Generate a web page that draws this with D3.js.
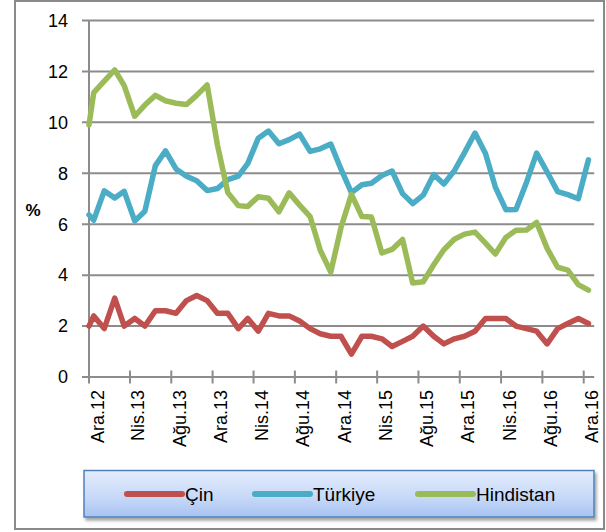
<!DOCTYPE html>
<html>
<head>
<meta charset="utf-8">
<script src="https://cdn.jsdelivr.net/npm/d3@7/dist/d3.min.js"></script>
<style>
  html, body { margin: 0; padding: 0; background: #fff; }
  svg { display: block; font-family: "Liberation Sans", Arial, sans-serif; }
</style>
</head>
<body>
<svg id="chart" width="606" height="532"></svg>
<script>
// ---- data ----
const firstMonth = "2012-11";   // Kas.12 (drawn at axis start)
const lastMonth = "2016-12";    // Ara.16
const tickLabels = ["Ara.12","Nis.13","Ağu.13","Ara.13","Nis.14","Ağu.14","Ara.14","Nis.15","Ağu.15","Ara.15","Nis.16","Ağu.16","Ara.16"];
const seriesNames = ["Çin", "Türkiye", "Hindistan"];
const seriesColors = ["#c0504d", "#4bacc6", "#9bbb59"];
const cin = [2.0, 2.4, 1.9, 3.1, 2.0, 2.3, 2.0, 2.6, 2.6, 2.5, 3.0, 3.2, 3.0, 2.5, 2.5, 1.9, 2.3, 1.8, 2.5, 2.4, 2.4, 2.2, 1.9, 1.7, 1.6, 1.6, 0.9, 1.6, 1.6, 1.5, 1.2, 1.4, 1.6, 2.0, 1.6, 1.3, 1.5, 1.6, 1.8, 2.3, 2.3, 2.3, 2.0, 1.9, 1.8, 1.3, 1.9, 2.1, 2.3, 2.1];
const turkiye = [6.37, 6.16, 7.31, 7.03, 7.29, 6.13, 6.51, 8.30, 8.88, 8.17, 7.88, 7.71, 7.32, 7.40, 7.75, 7.89, 8.39, 9.38, 9.66, 9.16, 9.32, 9.54, 8.86, 8.96, 9.15, 8.17, 7.24, 7.55, 7.61, 7.91, 8.09, 7.20, 6.81, 7.14, 7.95, 7.58, 8.10, 8.81, 9.58, 8.78, 7.46, 6.57, 6.58, 7.64, 8.79, 8.05, 7.28, 7.16, 7.00, 8.53];
const hindistan = [9.9, 11.17, 11.62, 12.06, 11.44, 10.24, 10.68, 11.06, 10.85, 10.75, 10.70, 11.06, 11.47, 9.13, 7.24, 6.73, 6.70, 7.08, 7.02, 6.49, 7.23, 6.75, 6.30, 4.98, 4.12, 5.86, 7.17, 6.30, 6.28, 4.87, 5.01, 5.40, 3.69, 3.74, 4.41, 5.00, 5.41, 5.61, 5.69, 5.26, 4.83, 5.48, 5.76, 5.77, 6.07, 5.05, 4.31, 4.20, 3.63, 3.41];
const yTicks = [0, 2, 4, 6, 8, 10, 12, 14];
const yUnit = "%";

// ---- setup ----
const svg = d3.select("#chart");
const parseM = d3.timeParse("%Y-%m");
const monthStarts = d3.timeMonth.range(parseM(firstMonth), d3.timeMonth.offset(parseM(lastMonth), 1));
const pointDates = monthStarts.map(d => d3.timeDay.offset(d, 14)); // mid-month
const axisStart = new Date(2012, 11, 1);
const axisEnd = new Date(2017, 0, 1);
const tickDates = tickLabels.map((_, i) => d3.timeMonth.offset(axisStart, 4 * i));

const x = d3.scaleTime().domain([axisStart, axisEnd]).range([89, 594.2]).clamp(true);
const y = d3.scaleLinear().domain([0, 14]).range([377, 20.5]);

const defs = svg.append("defs");
const grad = defs.append("linearGradient").attr("id", "lg").attr("x1", 0).attr("y1", 0).attr("x2", 0).attr("y2", 1);
grad.append("stop").attr("offset", "0%").attr("stop-color", "#e3ecfc");
grad.append("stop").attr("offset", "55%").attr("stop-color", "#c9daf8");
grad.append("stop").attr("offset", "100%").attr("stop-color", "#a7c3f2");
const f = defs.append("filter").attr("id", "sh").attr("x", "-5%").attr("y", "-20%").attr("width", "110%").attr("height", "150%");
f.append("feDropShadow").attr("dx", 2).attr("dy", 3).attr("stdDeviation", 1.5).attr("flood-color", "#000").attr("flood-opacity", 0.35);

// outer border
svg.append("rect").attr("x", 15).attr("y", 1).attr("width", 589).attr("height", 528)
  .attr("fill", "#fff").attr("stroke", "#8a8a8a").attr("stroke-width", 2);

const gridColor = "#8c8c8c";

// gridlines (incl. outer tick)
svg.append("g").selectAll("line").data(yTicks).join("line")
  .attr("x1", 82).attr("x2", 594.2)
  .attr("y1", d => y(d)).attr("y2", d => y(d))
  .attr("stroke", gridColor).attr("stroke-width", 2);

// y axis line
svg.append("line").attr("x1", x.range()[0]).attr("x2", x.range()[0])
  .attr("y1", y(14)).attr("y2", y(0)).attr("stroke", gridColor).attr("stroke-width", 2);

// y labels
svg.append("g").selectAll("text").data(yTicks).join("text")
  .attr("x", 68).attr("y", d => y(d)).attr("dy", "0.35em")
  .attr("text-anchor", "end").attr("font-size", 18).attr("fill", "#000")
  .text(d => d);

svg.append("text").attr("x", 33).attr("y", 216).attr("text-anchor", "middle")
  .attr("font-size", 17).attr("font-weight", "bold").text(yUnit);

// x ticks
svg.append("g").selectAll("line").data(tickDates).join("line")
  .attr("x1", d => x(d)).attr("x2", d => x(d))
  .attr("y1", y(0) - 6.5).attr("y2", y(0) + 6.5)
  .attr("stroke", gridColor).attr("stroke-width", 2);

// x labels
svg.append("g").selectAll("text").data(tickDates).join("text")
  .attr("transform", d => `translate(${x(d) + 14.5},390) rotate(-90)`)
  .attr("text-anchor", "end").attr("font-size", 18).attr("fill", "#000")
  .text((d, i) => tickLabels[i]);

// lines
const line = d3.line().x(d => x(d.date)).y(d => y(d.v));
[cin, turkiye, hindistan].forEach((vals, si) => {
  const pts = vals.map((v, i) => ({ date: pointDates[i], v }));
  svg.append("path").datum(pts).attr("d", line)
    .attr("fill", "none").attr("stroke", seriesColors[si]).attr("stroke-width", 5.5)
    .attr("stroke-linejoin", "round").attr("stroke-linecap", "round");
});

// legend
svg.append("rect").attr("x", 84).attr("y", 470.5).attr("width", 510).attr("height", 46.5)
  .attr("fill", "url(#lg)").attr("stroke", "#4f81bd").attr("stroke-width", 1.5)
  .attr("filter", "url(#sh)");
const legendX = [127, 255, 418];
const lg = svg.append("g").selectAll("g").data(seriesNames).join("g")
  .attr("transform", (d, i) => `translate(${legendX[i]},494)`);
lg.append("line").attr("x1", 0).attr("x2", 55).attr("y1", 0).attr("y2", 0)
  .attr("stroke", (d, i) => seriesColors[i]).attr("stroke-width", 6).attr("stroke-linecap", "round");
lg.append("text").attr("x", 58).attr("y", 0).attr("dy", "0.36em")
  .attr("font-size", 19).attr("fill", "#000").text(d => d);
</script>
</body>
</html>
